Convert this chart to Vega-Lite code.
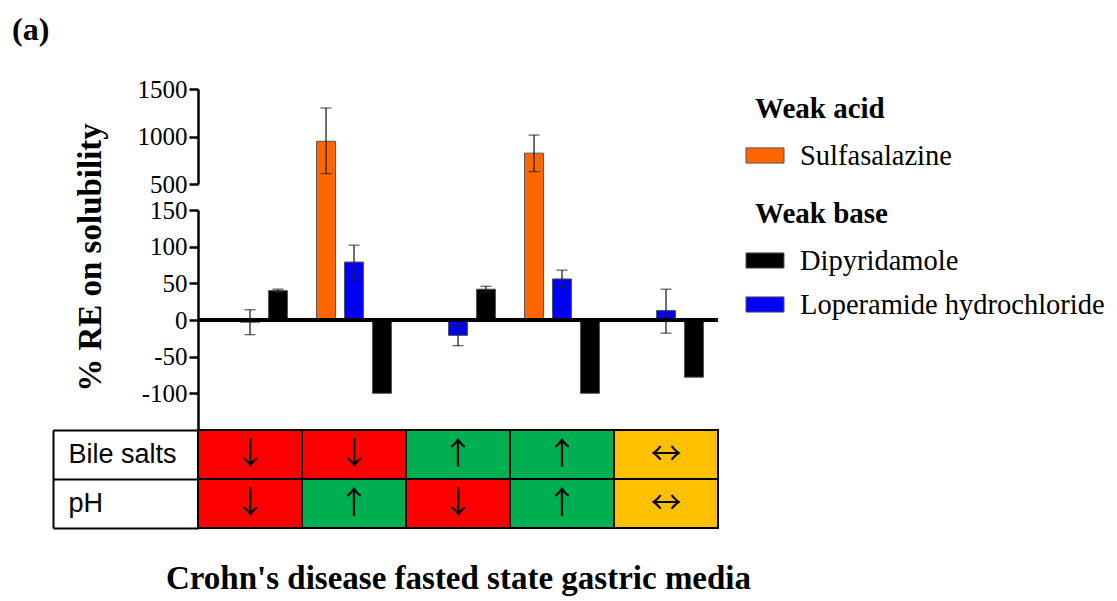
{
  "$schema": "https://vega.github.io/schema/vega-lite/v6.json",
  "background": "white",
  "padding": {"left": 12, "top": 14, "right": 5, "bottom": 5},
  "title": {"text": "(a)", "anchor": "start", "frame": "bounds", "dx": -40, "font": "Liberation Serif", "fontSize": 32, "fontWeight": "bold", "color": "black", "offset": 30},
  "config": {
    "view": {"stroke": null},
    "style": {"guide-title": {"font": "Liberation Serif"}, "guide-label": {"font": "Liberation Serif"}},
    "axis": {"grid": false, "domainColor": "black", "tickColor": "black", "labelColor": "black", "titleColor": "black"},
    "legend": {
      "titleFont": "Liberation Serif", "titleFontSize": 29, "titleFontWeight": "bold", "titleColor": "black", "titlePadding": 12,
      "labelFont": "Liberation Serif", "labelFontSize": 28.5, "labelColor": "black", "labelOffset": 6, "labelLimit": 450,
      "symbolType": "M-1.5,-0.4H0.5V0.4H-1.5Z", "symbolSize": 1444, "symbolStrokeColor": "#555", "symbolStrokeWidth": 1,
      "rowPadding": 10, "padding": 0
    }
  },
  "datasets": {
    "bars": [
      {"condition": "C1", "drug": "Loperamide hydrochloride", "value": -3, "lo": -20, "hi": 14},
      {"condition": "C1", "drug": "Dipyridamole", "value": 40, "lo": 38, "hi": 42},
      {"condition": "C2", "drug": "Sulfasalazine", "value": 950, "lo": 610, "hi": 1300},
      {"condition": "C2", "drug": "Loperamide hydrochloride", "value": 79, "lo": 56, "hi": 102},
      {"condition": "C2", "drug": "Dipyridamole", "value": -100, "lo": null, "hi": null},
      {"condition": "C3", "drug": "Loperamide hydrochloride", "value": -21, "lo": -35, "hi": -8},
      {"condition": "C3", "drug": "Dipyridamole", "value": 42, "lo": 38, "hi": 46},
      {"condition": "C4", "drug": "Sulfasalazine", "value": 825, "lo": 630, "hi": 1015},
      {"condition": "C4", "drug": "Loperamide hydrochloride", "value": 56, "lo": 44, "hi": 68},
      {"condition": "C4", "drug": "Dipyridamole", "value": -100, "lo": null, "hi": null},
      {"condition": "C5", "drug": "Loperamide hydrochloride", "value": 13, "lo": -18, "hi": 42},
      {"condition": "C5", "drug": "Dipyridamole", "value": -78, "lo": null, "hi": null}
    ],
    "table": [
      {"condition": "C1", "factor": "Bile salts", "level": "down", "arrow": "↓"},
      {"condition": "C1", "factor": "pH", "level": "down", "arrow": "↓"},
      {"condition": "C2", "factor": "Bile salts", "level": "down", "arrow": "↓"},
      {"condition": "C2", "factor": "pH", "level": "up", "arrow": "↑"},
      {"condition": "C3", "factor": "Bile salts", "level": "up", "arrow": "↑"},
      {"condition": "C3", "factor": "pH", "level": "down", "arrow": "↓"},
      {"condition": "C4", "factor": "Bile salts", "level": "up", "arrow": "↑"},
      {"condition": "C4", "factor": "pH", "level": "up", "arrow": "↑"},
      {"condition": "C5", "factor": "Bile salts", "level": "same", "arrow": "↔"},
      {"condition": "C5", "factor": "pH", "level": "same", "arrow": "↔"}
    ]
  },
  "bounds": "flush",
  "spacing": 0,
  "resolve": {"scale": {"fill": "independent"}},
  "vconcat": [
    {
      "width": 520,
      "height": 121,
      "data": {"name": "bars"},
      "layer": [
        {
          "transform": [{"filter": "datum.drug === 'Sulfasalazine'"}],
          "mark": {"type": "bar", "clip": true, "stroke": "#555", "strokeWidth": 1},
          "encoding": {
            "x": {"field": "condition", "type": "nominal", "scale": {"domain": ["C1", "C2", "C3", "C4", "C5"], "paddingInner": 0, "paddingOuter": 0}, "axis": null},
            "xOffset": {"field": "drug", "type": "nominal", "scale": {"domain": ["Sulfasalazine", "Loperamide hydrochloride", "Dipyridamole"], "paddingInner": 0.32, "paddingOuter": 0.52}},
            "y": {"field": "value", "type": "quantitative", "scale": {"domain": [500, 1500], "range": [95, 0], "nice": false, "zero": false},
              "axis": {"values": [500, 1000, 1500], "labelExpr": "'' + datum.value", "title": null, "domainWidth": 2.5, "tickWidth": 2.5, "tickSize": 9, "labelFont": "Liberation Serif", "labelFontSize": 25, "labelPadding": 2, "labelOverlap": false}},
            "y2": {"datum": 0},
            "color": {"field": "drug", "type": "nominal", "scale": {"domain": ["Sulfasalazine"], "range": ["#FF6600"]},
              "legend": {"title": "Weak acid", "orient": "none", "legendX": 557, "legendY": 6, "titleFont": "Liberation Serif", "labelFont": "Liberation Serif"}}
          }
        },
        {
          "transform": [{"filter": "datum.drug !== 'Sulfasalazine'"}],
          "mark": {"type": "bar", "clip": true, "stroke": "#555", "strokeWidth": 1},
          "encoding": {
            "x": {"field": "condition", "type": "nominal"},
            "xOffset": {"field": "drug", "type": "nominal"},
            "y": {"field": "value", "type": "quantitative"},
            "y2": {"datum": 0},
            "color": {"field": "drug", "type": "nominal", "scale": {"domain": ["Dipyridamole", "Loperamide hydrochloride"], "range": ["#000000", "#0000FF"]},
              "legend": {"title": "Weak base", "orient": "none", "legendX": 557, "legendY": 111, "titleFont": "Liberation Serif", "labelFont": "Liberation Serif"}}
          }
        },
        {
          "mark": {"type": "rule", "clip": true, "color": "#222", "strokeWidth": 1.3},
          "encoding": {
            "x": {"field": "condition", "type": "nominal"},
            "xOffset": {"field": "drug", "type": "nominal"},
            "y": {"field": "lo", "type": "quantitative"}, "y2": {"field": "hi"}
          }
        },
        {
          "mark": {"type": "tick", "clip": true, "color": "#222", "thickness": 1.3, "size": 11},
          "encoding": {
            "x": {"field": "condition", "type": "nominal"},
            "xOffset": {"field": "drug", "type": "nominal"},
            "y": {"field": "lo", "type": "quantitative"}
          }
        },
        {
          "mark": {"type": "tick", "clip": true, "color": "#222", "thickness": 1.3, "size": 11},
          "encoding": {
            "x": {"field": "condition", "type": "nominal"},
            "xOffset": {"field": "drug", "type": "nominal"},
            "y": {"field": "hi", "type": "quantitative"}
          }
        }
      ],
      "resolve": {"scale": {"color": "independent"}}
    },
    {
      "width": 520,
      "height": 220,
      "data": {"name": "bars"},
      "layer": [
        {
          "mark": {"type": "bar", "clip": true, "stroke": "#555", "strokeWidth": 1},
          "encoding": {
            "x": {"field": "condition", "type": "nominal", "scale": {"domain": ["C1", "C2", "C3", "C4", "C5"], "paddingInner": 0, "paddingOuter": 0}, "axis": null},
            "xOffset": {"field": "drug", "type": "nominal", "scale": {"domain": ["Sulfasalazine", "Loperamide hydrochloride", "Dipyridamole"], "paddingInner": 0.32, "paddingOuter": 0.52}},
            "y": {"field": "value", "type": "quantitative", "scale": {"domain": [-150, 150], "nice": false},
              "axis": {"values": [-100, -50, 0, 50, 100, 150], "labelExpr": "'' + datum.value", "title": "% RE on solubility", "titleFont": "Liberation Serif", "titleFontSize": 33, "titleFontWeight": "bold", "titleY": 47, "titlePadding": 34,
                "domainWidth": 2.5, "tickWidth": 2.5, "tickSize": 9, "labelFont": "Liberation Serif", "labelFontSize": 25, "labelPadding": 2, "labelOverlap": false}},
            "y2": {"datum": 0},
            "fill": {"field": "drug", "type": "nominal", "scale": {"domain": ["Sulfasalazine", "Loperamide hydrochloride", "Dipyridamole"], "range": ["#FF6600", "#0000FF", "#000000"]}, "legend": null}
          }
        },
        {
          "mark": {"type": "rule", "clip": true, "color": "#222", "strokeWidth": 1.3},
          "encoding": {
            "x": {"field": "condition", "type": "nominal"},
            "xOffset": {"field": "drug", "type": "nominal"},
            "y": {"field": "lo", "type": "quantitative"}, "y2": {"field": "hi"}
          }
        },
        {
          "mark": {"type": "tick", "clip": true, "color": "#222", "thickness": 1.3, "size": 11},
          "encoding": {
            "x": {"field": "condition", "type": "nominal"},
            "xOffset": {"field": "drug", "type": "nominal"},
            "y": {"field": "lo", "type": "quantitative"}
          }
        },
        {
          "mark": {"type": "tick", "clip": true, "color": "#222", "thickness": 1.3, "size": 11},
          "encoding": {
            "x": {"field": "condition", "type": "nominal"},
            "xOffset": {"field": "drug", "type": "nominal"},
            "y": {"field": "hi", "type": "quantitative"}
          }
        },
        {
          "mark": {"type": "rule", "color": "black", "strokeWidth": 3},
          "encoding": {"y": {"datum": 0}}
        }
      ]
    },
    {
      "width": 520,
      "height": 98,
      "data": {"name": "table"},
      "encoding": {
        "x": {"field": "condition", "type": "nominal", "scale": {"domain": ["C1", "C2", "C3", "C4", "C5"], "paddingInner": 0, "paddingOuter": 0},
          "axis": {"title": "Crohn's disease fasted state gastric media", "orient": "bottom", "labels": false, "ticks": false, "domain": false, "titleFont": "Liberation Serif", "titleFontSize": 33, "titleFontWeight": "bold", "titlePadding": 34}},
        "y": {"field": "factor", "type": "nominal", "scale": {"domain": ["Bile salts", "pH"], "paddingInner": 0, "paddingOuter": 0},
          "axis": {"title": null, "offset": 145, "tickSize": -145, "tickBand": "extent", "tickWidth": 2, "domainWidth": 2, "labelAlign": "left", "labelPadding": 130, "labelFont": "Liberation Sans", "labelFontSize": 27}}
      },
      "layer": [
        {
          "mark": {"type": "rect", "stroke": "black", "strokeWidth": 2},
          "encoding": {"fill": {"field": "level", "type": "nominal", "scale": {"domain": ["down", "up", "same"], "range": ["#FF0000", "#00B050", "#FFC000"]}, "legend": null}}
        },
        {
          "mark": {"type": "text", "font": "Noto Sans CJK JP", "fontSize": 31, "color": "black"},
          "encoding": {"text": {"field": "arrow"}}
        }
      ]
    }
  ]
}
